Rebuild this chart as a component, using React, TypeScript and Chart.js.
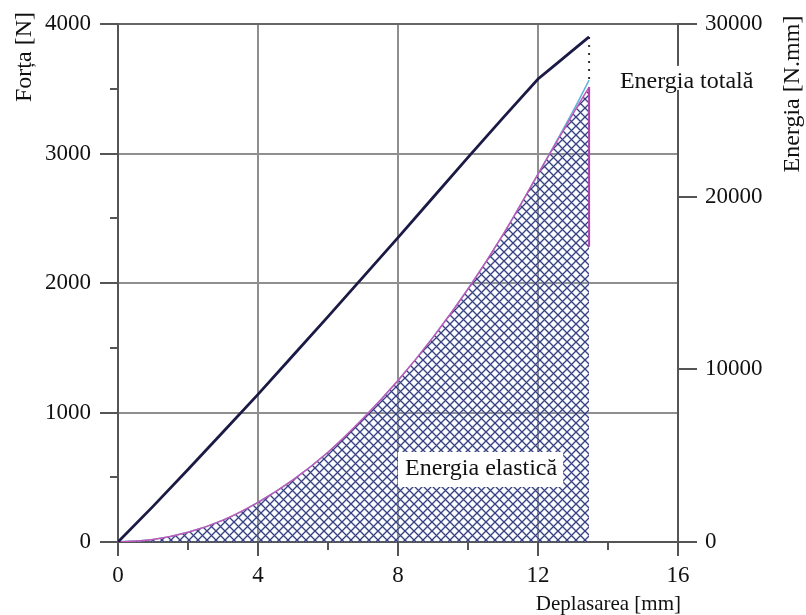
import React, { useEffect, useRef } from 'react';
import { Chart, registerables } from 'chart.js';

Chart.register(...registerables);

// ---- data ----
const forceX = [0, 1, 2, 3, 4, 5, 6, 7, 8, 9, 10, 11, 12, 12.5, 13, 13.46];
const forceN = [0, 275, 560, 850, 1140, 1440, 1740, 2045, 2350, 2660, 2970, 3275, 3575, 3686, 3798, 3900];

const energyX = [0, 1, 2, 3, 4, 5, 6, 7, 8, 9, 10, 11, 12, 13, 13.46];
const elasticEnergy = [0, 140, 560, 1270, 2300, 3600, 5200, 7150, 9350, 11850, 14650, 17800, 21300, 24800, 26350];
const totalEnergy = [0, 140, 560, 1270, 2300, 3600, 5200, 7150, 9350, 11850, 14650, 17800, 21300, 24950, 26750];

const unloadX = [13.46, 13.46];
const unloadEnergy = [26350, 17100];
const dropForce = [3900, 3560];

const xMajor = [0, 4, 8, 12, 16];
const xMinor = [2, 6, 10, 14];
const forceMajor = [0, 1000, 2000, 3000, 4000];
const forceMinor = [500, 1500, 2500, 3500];
const energyMajor = [0, 10000, 20000, 30000];

const xTitle = 'Deplasarea [mm]';
const yTitle = 'Forța [N]';
const y2Title = 'Energia [N.mm]';
const labelTotal = { text: 'Energia totală', x: 14.34, y: 26300 };
const labelElastic = { text: 'Energia elastică', x: 8.2, y: 3880 };

const SERIF = '"Liberation Serif", "Times New Roman", serif';
const AXIS = '#555555';
const GRID = '#8f8f8f';

const pts = (xs: number[], ys: number[]) => xs.map((x, i) => ({ x, y: ys[i] }));

function makeHatch(): CanvasPattern | string {
  const n = 9;
  const t = document.createElement('canvas');
  t.width = n;
  t.height = n;
  const c = t.getContext('2d');
  if (!c) return 'rgba(60,60,130,0.4)';
  const lines = () => {
    c.beginPath();
    c.moveTo(-1, -1); c.lineTo(n + 1, n + 1);
    c.moveTo(-1, n + 1); c.lineTo(n + 1, -1);
    c.stroke();
  };
  c.strokeStyle = 'rgba(140,185,220,0.5)';
  c.lineWidth = 2.2;
  lines();
  c.strokeStyle = 'rgba(50,46,118,0.95)';
  c.lineWidth = 1.2;
  lines();
  const p = c.createPattern(t, 'repeat');
  return p || 'rgba(60,60,130,0.4)';
}

const decorPlugin = {
  id: 'decor',
  afterDraw(chart: any) {
    const ctx = chart.ctx as CanvasRenderingContext2D;
    const { x, y, y2 } = chart.scales;
    const area = chart.chartArea;
    ctx.save();
    // tick marks
    ctx.strokeStyle = AXIS;
    ctx.lineWidth = 2;
    ctx.beginPath();
    xMajor.forEach((v) => {
      const px = Math.round(x.getPixelForValue(v));
      ctx.moveTo(px, area.bottom); ctx.lineTo(px, area.bottom + 14);
    });
    xMinor.forEach((v) => {
      const px = Math.round(x.getPixelForValue(v));
      ctx.moveTo(px, area.bottom); ctx.lineTo(px, area.bottom + 8);
    });
    forceMajor.forEach((v) => {
      const py = Math.round(y.getPixelForValue(v));
      ctx.moveTo(area.left - 18, py); ctx.lineTo(area.left, py);
    });
    forceMinor.forEach((v) => {
      const py = Math.round(y.getPixelForValue(v));
      ctx.moveTo(area.left - 8, py); ctx.lineTo(area.left, py);
    });
    energyMajor.forEach((v) => {
      const py = Math.round(y2.getPixelForValue(v));
      ctx.moveTo(area.right, py); ctx.lineTo(area.right + 19, py);
    });
    ctx.stroke();

    // annotations
    ctx.font = `24px ${SERIF}`;
    ctx.textAlign = 'left';
    ctx.textBaseline = 'alphabetic';
    {
      const px = x.getPixelForValue(labelElastic.x);
      const py = y2.getPixelForValue(labelElastic.y);
      const w = ctx.measureText(labelElastic.text).width;
      ctx.fillStyle = '#ffffff';
      ctx.fillRect(px - 7, py - 23, w + 13, 35);
      ctx.fillStyle = '#111111';
      ctx.fillText(labelElastic.text, px, py);
    }
    {
      const px = x.getPixelForValue(labelTotal.x);
      const py = y2.getPixelForValue(labelTotal.y);
      const w = ctx.measureText(labelTotal.text).width;
      ctx.fillStyle = '#ffffff';
      ctx.fillRect(px - 3, py - 22, w + 6, 24);
      ctx.fillStyle = '#111111';
      ctx.fillText(labelTotal.text, px, py);
    }

    // axis titles
    ctx.fillStyle = '#111111';
    ctx.font = `24px ${SERIF}`;
    ctx.save();
    ctx.translate(31, 57);
    ctx.rotate(-Math.PI / 2);
    ctx.textAlign = 'center';
    ctx.fillText(yTitle, 0, 0);
    ctx.restore();

    ctx.save();
    ctx.translate(799, 94);
    ctx.rotate(-Math.PI / 2);
    ctx.textAlign = 'center';
    ctx.fillText(y2Title, 0, 0);
    ctx.restore();

    ctx.font = `21px ${SERIF}`;
    ctx.textAlign = 'right';
    ctx.fillText(xTitle, 681, 610);
    ctx.restore();
  },
};

const fitVertical = (w: number) => (s: any) => {
  s.width = w;
  s.paddingTop = 0;
  s.paddingBottom = 0;
};

export default function App() {
  const ref = useRef<HTMLCanvasElement | null>(null);
  useEffect(() => {
    if (!ref.current) return;
    const hatch = makeHatch();
    const tickFont = { family: SERIF, size: 23 };
    const chart = new Chart(ref.current, {
      type: 'line',
      data: {
        datasets: [
          {
            label: 'Forța',
            data: pts(forceX, forceN),
            yAxisID: 'y',
            borderColor: '#1b1a45',
            borderWidth: 2.8,
            pointRadius: 0,
            fill: false,
            order: 0,
          },
          {
            label: 'drop',
            data: pts(unloadX, dropForce),
            yAxisID: 'y',
            borderColor: '#333333',
            borderWidth: 2,
            borderDash: [2, 6],
            pointRadius: 0,
            fill: false,
            order: 1,
          },
          {
            label: 'unload',
            data: pts(unloadX, unloadEnergy),
            yAxisID: 'y2',
            borderColor: '#b040b0',
            borderWidth: 2,
            pointRadius: 0,
            fill: false,
            order: 2,
          },
          {
            label: 'Energia elastică',
            data: pts(energyX, elasticEnergy),
            yAxisID: 'y2',
            borderColor: '#c458b8',
            borderWidth: 1.5,
            pointRadius: 0,
            cubicInterpolationMode: 'monotone',
            fill: 'origin',
            backgroundColor: hatch as any,
            order: 3,
          },
          {
            label: 'Energia totală',
            data: pts(energyX, totalEnergy),
            yAxisID: 'y2',
            borderColor: '#5fb4d8',
            borderWidth: 1.5,
            pointRadius: 0,
            cubicInterpolationMode: 'monotone',
            fill: false,
            order: 4,
          },
        ],
      },
      options: {
        responsive: false,
        animation: false,
        events: [],
        layout: { padding: { top: 24, left: 0, right: 0, bottom: 0 } },
        plugins: { legend: { display: false }, tooltip: { enabled: false } },
        scales: {
          x: {
            type: 'linear',
            position: 'bottom',
            min: 0,
            max: 16,
            afterFit: (s: any) => { s.height = 73; s.paddingLeft = 0; s.paddingRight = 0; },
            afterBuildTicks: (s: any) => { s.ticks = xMajor.map((v) => ({ value: v })); },
            ticks: { font: tickFont, color: '#111111', padding: 20, maxRotation: 0, callback: (v: any) => String(v) },
            grid: {
              drawTicks: false,
              lineWidth: 2,
              color: (c: any) => ([4, 8, 12].includes(c.tick?.value) ? GRID : 'rgba(0,0,0,0)'),
            },
            border: { display: true, color: AXIS, width: 2 },
          },
          y: {
            type: 'linear',
            position: 'left',
            min: 0,
            max: 4000,
            afterFit: fitVertical(118),
            afterBuildTicks: (s: any) => { s.ticks = forceMajor.map((v) => ({ value: v })); },
            ticks: { font: tickFont, color: '#111111', padding: 27, callback: (v: any) => String(v) },
            grid: {
              drawTicks: false,
              lineWidth: 2,
              color: (c: any) => {
                const v = c.tick?.value;
                if (v === 4000) return '#666666';
                if (v === 0) return 'rgba(0,0,0,0)';
                return GRID;
              },
            },
            border: { display: true, color: AXIS, width: 2 },
          },
          y2: {
            type: 'linear',
            position: 'right',
            min: 0,
            max: 30000,
            afterFit: fitVertical(128),
            afterBuildTicks: (s: any) => { s.ticks = energyMajor.map((v) => ({ value: v })); },
            ticks: { font: tickFont, color: '#111111', padding: 27, callback: (v: any) => String(v) },
            grid: { drawOnChartArea: false, drawTicks: false },
            border: { display: true, color: AXIS, width: 2 },
          },
        },
      },
      plugins: [decorPlugin],
    } as any);
    return () => chart.destroy();
  }, []);

  return (
    <div style={{ position: 'absolute', left: 0, top: 0, width: 806, height: 615, background: '#ffffff' }}>
      <canvas ref={ref} width={806} height={615} style={{ display: 'block' }} />
    </div>
  );
}
